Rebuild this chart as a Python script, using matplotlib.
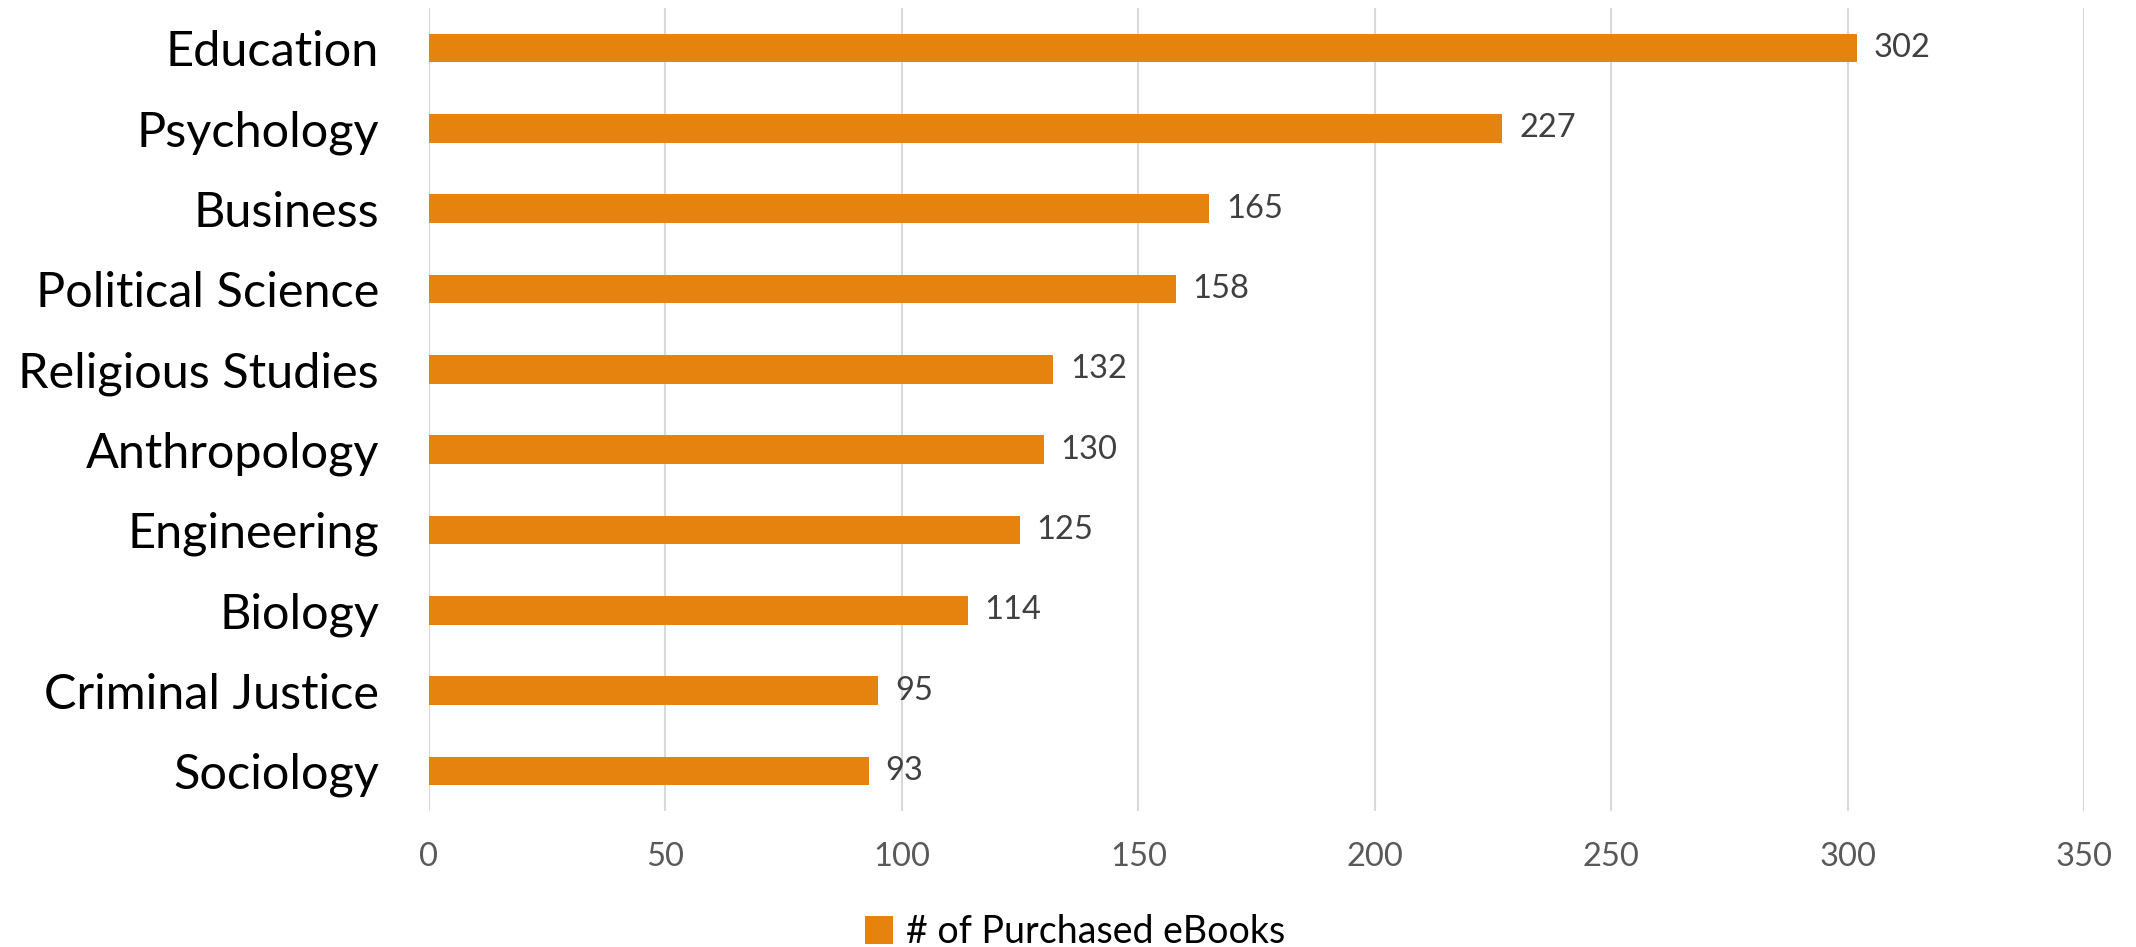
import matplotlib.pyplot as plt
import numpy as np


CATEGORIES = ['Education', 'Psychology', 'Business', 'Political Science',
              'Religious Studies', 'Anthropology', 'Engineering', 'Biology',
              'Criminal Justice', 'Sociology']
PURCHASED = [302, 227, 165, 158, 132, 130, 125, 114, 95, 93]
X_TICKS = [0, 50, 100, 150, 200, 250, 300, 350]
SERIES_NAME = '# of Purchased eBooks'

BAR_COLOR = '#E6830F'
GRID_COLOR = '#D9D9D9'


def main():
    plt.rcParams['font.family'] = ['Lato', 'DejaVu Sans']
    fig = plt.figure(figsize=(21.36, 9.47), dpi=100)
    ax = fig.add_axes([429 / 2136, 1 - 811 / 947,
                       (2084 - 429) / 2136, (811 - 8) / 947])

    y = np.arange(len(CATEGORIES))
    bars = ax.barh(y, PURCHASED, height=0.355, color=BAR_COLOR,
                   label=SERIES_NAME, zorder=3)
    for bar, val in zip(bars, PURCHASED):
        ax.annotate(str(val),
                    (bar.get_width(), bar.get_y() + bar.get_height() / 2),
                    xytext=(12, 0), textcoords='offset points',
                    va='center', ha='left', fontsize=23.5, color='#404040')

    ax.set_ylim(len(CATEGORIES) - 0.5, -0.5)
    ax.set_xlim(0, 350)
    ax.set_yticks(y)
    ax.set_yticklabels(CATEGORIES, fontsize=35, color='black')
    ax.set_xticks(X_TICKS)
    ax.set_xticklabels([str(t) for t in X_TICKS], fontsize=23.5,
                       color='#595959')
    ax.tick_params(axis='y', length=0, pad=36)
    ax.tick_params(axis='x', length=0, pad=22)
    ax.grid(axis='x', color=GRID_COLOR, linewidth=1.5, zorder=0)
    for side in ['top', 'right', 'bottom', 'left']:
        ax.spines[side].set_visible(False)

    fig.legend(loc='center', bbox_to_anchor=(1075 / 2136, 1 - 932 / 947),
               frameon=False, fontsize=27, handlelength=0.75,
               handleheight=0.75, handletextpad=0.35, borderpad=0)

    fig.savefig('out.png', dpi=100)


if __name__ == '__main__':
    main()
